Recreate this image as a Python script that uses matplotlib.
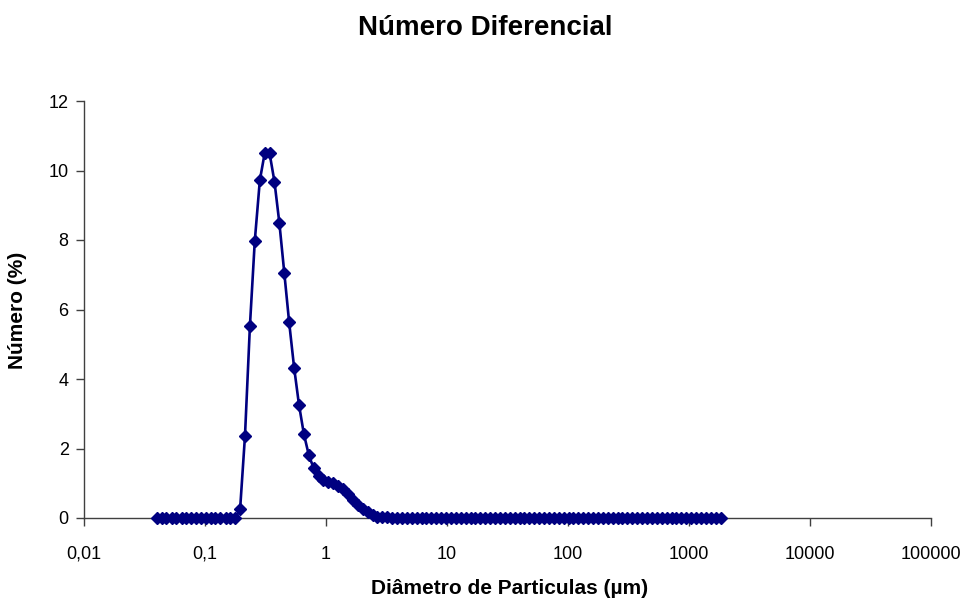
import matplotlib
matplotlib.use("Agg")
import matplotlib.pyplot as plt
from matplotlib.ticker import FixedLocator, FixedFormatter, NullLocator

plt.rcParams['font.family'] = ['Liberation Sans', 'DejaVu Sans']

# Particle size channels (µm)
diametro = [
    0.040, 0.044, 0.048, 0.053, 0.058, 0.064, 0.070, 0.077, 0.084, 0.093,
    0.102, 0.112, 0.122, 0.134, 0.148, 0.162, 0.178, 0.195, 0.214, 0.235,
    0.258, 0.284, 0.311, 0.342, 0.375, 0.412, 0.452, 0.496, 0.545, 0.598,
    0.656, 0.721, 0.791, 0.868, 0.953, 1.047, 1.149, 1.261, 1.385, 1.520,
    1.669, 1.832, 2.011, 2.208, 2.423, 2.660, 2.920, 3.206, 3.519, 3.863,
    4.241, 4.656, 5.111, 5.611, 6.159, 6.761, 7.422, 8.148, 8.944, 9.819,
    10.78, 11.83, 12.99, 14.26, 15.65, 17.18, 18.86, 20.71, 22.73, 24.95,
    27.39, 30.07, 33.01, 36.24, 39.78, 43.67, 47.94, 52.62, 57.77, 63.41,
    69.61, 76.42, 83.89, 92.09, 101.1, 111.0, 121.8, 133.7, 146.8, 161.2,
    176.9, 194.2, 213.2, 234.1, 256.9, 282.1, 309.6, 339.9, 373.1, 409.6,
    449.7, 493.6, 541.9, 594.9, 653.0, 716.9, 786.9, 863.9, 948.3, 1041,
    1143, 1255, 1377, 1512, 1660, 1822,
]

# Differential number distribution (%)
numero = [
    0, 0, 0, 0, 0, 0, 0, 0, 0, 0,
    0, 0, 0, 0, 0, 0, 0, 0.25, 2.36, 5.52,
    7.98, 9.72, 10.49, 10.49, 9.68, 8.48, 7.06, 5.63, 4.33, 3.26,
    2.42, 1.81, 1.43, 1.20, 1.10, 1.05, 1.00, 0.93, 0.83, 0.68,
    0.52, 0.37, 0.26, 0.16, 0.09, 0.04, 0.02, 0.02, 0.01, 0.01,
    0.01, 0, 0, 0, 0, 0, 0, 0, 0, 0,
    0, 0, 0, 0, 0, 0, 0, 0, 0, 0,
    0, 0, 0, 0, 0, 0, 0, 0, 0, 0,
    0, 0, 0, 0, 0, 0, 0, 0, 0, 0,
    0, 0, 0, 0, 0, 0, 0, 0, 0, 0,
    0, 0, 0, 0, 0, 0, 0, 0, 0, 0,
    0, 0, 0, 0, 0, 0,
]

x_ticks = [0.01, 0.1, 1, 10, 100, 1000, 10000, 100000]
x_labels = ["0,01", "0,1", "1", "10", "100", "1000", "10000", "100000"]
y_ticks = [0, 2, 4, 6, 8, 10, 12]

W, H = 970, 601
fig = plt.figure(figsize=(W / 100, H / 100), dpi=100)
ax = fig.add_axes([84 / W, 1 - 518 / H, (931 - 84) / W, (518 - 101) / H])

navy = "#000080"
ax.plot(diametro, numero, color=navy, lw=1.9, marker="D", ms=6.5,
        mfc=navy, mec=navy, clip_on=False, zorder=3)

ax.set_xscale("log")
ax.set_xlim(0.01, 100000)
ax.set_ylim(0, 12)
ax.xaxis.set_major_locator(FixedLocator(x_ticks))
ax.xaxis.set_major_formatter(FixedFormatter(x_labels))
ax.xaxis.set_minor_locator(NullLocator())
ax.set_yticks(y_ticks)
ax.set_yticklabels([str(v) for v in y_ticks])

for s in ("top", "right"):
    ax.spines[s].set_visible(False)
for s in ("left", "bottom"):
    ax.spines[s].set_color("#404040")
    ax.spines[s].set_linewidth(1.0)
ax.tick_params(axis="x", direction="out", length=6, width=1, color="#404040",
               labelsize=13, pad=14)
ax.tick_params(axis="y", direction="out", length=6, width=1, color="#404040",
               labelsize=13, pad=5)

fig.text(485 / W, 1 - 28 / H, "Número Diferencial", ha="center", va="center",
         fontsize=20, fontweight="bold")
fig.text(510 / W, 1 - 588 / H, "Diâmetro de Particulas (µm)", ha="center",
         va="center", fontsize=15, fontweight="bold")
fig.text(18 / W, 1 - 310 / H, "Número (%)", ha="center", va="center",
         rotation=90, fontsize=15, fontweight="bold")

fig.savefig("out.png", dpi=100, facecolor="white")
